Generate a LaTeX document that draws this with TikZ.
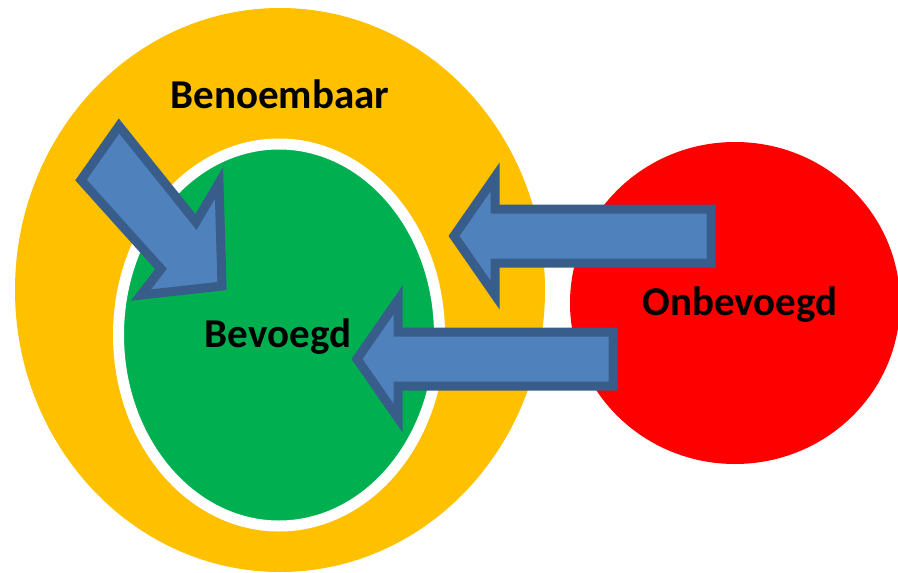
\documentclass[tikz,border=0pt]{standalone}
\usepackage{fontspec}
\setmainfont{Carlito}
\usetikzlibrary{shapes.geometric}
\definecolor{benyellow}{HTML}{FFC000}
\definecolor{bevgreen}{HTML}{00B050}
\definecolor{onbred}{HTML}{FF0000}
\definecolor{arrowfill}{HTML}{4F81BD}
\definecolor{arrowline}{HTML}{385D8A}
\newcommand{\drawblockarrow}[3]{
\pgfmathsetmacro{\tipx}{#1}
\pgfmathsetmacro{\tipy}{#2}
\pgfmathsetmacro{\tailx}{#3}
\pgfmathsetmacro{\headx}{\tipx+41}
  \draw[blockarrow] (\tipx,\tipy) -- (\headx,\tipy-59) -- (\headx,\tipy-27) -- (\tailx,\tipy-27)
    -- (\tailx,\tipy+27) -- (\headx,\tipy+27) -- (\headx,\tipy+59) -- cycle;
}

\begin{document}
\begin{tikzpicture}[x=1pt,y=-1pt,
  blockarrow/.style={fill=arrowfill,draw=arrowline,line width=9pt,line join=miter},
  lbl/.style={font=\fontsize{41}{41}\selectfont\bfseries,anchor=base,inner sep=0pt}]
\useasboundingbox (0,0) rectangle (898,573);
% the three sets
\node[ellipse,fill=benyellow,minimum width=530pt,minimum height=564pt,inner sep=0pt] (benoembaar) at (280,290) {};
\node[ellipse,fill=bevgreen,draw=white,line width=11pt,minimum width=321pt,minimum height=382pt,inner sep=0pt] (bevoegd) at (279,335) {};
\node[ellipse,fill=onbred,minimum width=330pt,minimum height=322pt,inner sep=0pt] (onbevoegd) at (735,303) {};
% arrows
\draw[blockarrow] (119,126) -- (196,222) -- (219,183) -- (222,286) -- (141,295) -- (161,269) -- (81,180) -- cycle;
\drawblockarrow{454}{236}{711}
\drawblockarrow{357}{359}{613}
% labels
\node[lbl] (benlabel) at (280,108) {Benoembaar};
\node[lbl] (bevlabel) at (278,347) {Bevoegd};
\node[lbl] (onblabel) at (740,315) {Onbevoegd};
\end{tikzpicture}
\end{document}
